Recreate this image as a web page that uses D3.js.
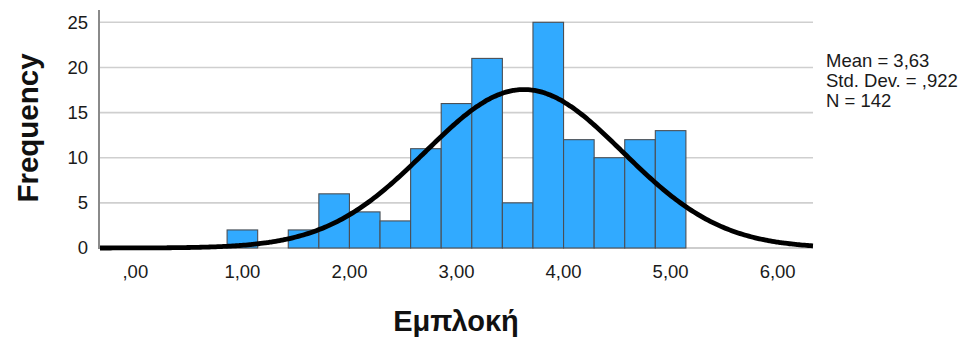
<!DOCTYPE html>
<html>
<head>
<meta charset="utf-8">
<script src="https://cdn.jsdelivr.net/npm/d3@7"></script>
<style>
  html, body { margin: 0; padding: 0; background: #fff; }
  svg { display: block; font-family: "Liberation Sans", Arial, sans-serif; }
</style>
</head>
<body>
<svg id="chart" width="971" height="342"></svg>
<script>
// Histogram of Εμπλοκή with fitted normal curve
const binCenters = [1.0000, 1.2857, 1.5714, 1.8571, 2.1429, 2.4286, 2.7143, 3.0000,
                    3.2857, 3.5714, 3.8571, 4.1429, 4.4286, 4.7143, 5.0000];
const counts     = [2, 0, 2, 6, 4, 3, 11, 16, 21, 5, 25, 12, 10, 12, 13];
const binWidth = 0.2857;
const xTicks = [0, 1, 2, 3, 4, 5, 6];
const xTickLabels = [",00", "1,00", "2,00", "3,00", "4,00", "5,00", "6,00"];
const yTicks = [0, 5, 10, 15, 20, 25];
const statMean = 3.63, statSD = 0.922, statN = 142;
const statLabels = ["Mean = 3,63", "Std. Dev. = ,922", "N = 142"];
const xTitle = "Εμπλοκή";
const yTitle = "Frequency";

const svg = d3.select("#chart");
const plotL = 100, plotR = 813, plotB = 248, plotT = 22.3, axisTop = 10;

const x = d3.scaleLinear().domain([-0.33, 6.33]).range([plotL, plotR]);
const y = d3.scaleLinear().domain([0, 25]).range([plotB, plotT]);

// gridlines
svg.append("g").selectAll("line").data(yTicks.filter(d => d > 0)).join("line")
  .attr("x1", plotL).attr("x2", plotR)
  .attr("y1", d => y(d)).attr("y2", d => y(d))
  .attr("stroke", "#cfcfcf").attr("stroke-width", 1.6);

// x axis baseline
svg.append("line").attr("x1", plotL).attr("x2", plotR)
  .attr("y1", y(0)).attr("y2", y(0))
  .attr("stroke", "#bdbdbd").attr("stroke-width", 1.6);

// bars
const bins = binCenters.map((c, i) => ({ x0: c - binWidth / 2, x1: c + binWidth / 2, n: counts[i] }))
  .filter(d => d.n > 0);
svg.append("g").selectAll("rect").data(bins).join("rect")
  .attr("x", d => x(d.x0)).attr("width", d => x(d.x1) - x(d.x0))
  .attr("y", d => y(d.n)).attr("height", d => y(0) - y(d.n))
  .attr("fill", "#31aaff").attr("stroke", "#4b4f55").attr("stroke-width", 1.1);

// normal curve scaled to counts
const scaleK = statN * binWidth / (statSD * Math.sqrt(2 * Math.PI));
const curvePts = d3.range(-0.33, 6.3301, 0.02).map(v => [v, scaleK * Math.exp(-0.5 * ((v - statMean) / statSD) ** 2)]);
svg.append("path").datum(curvePts)
  .attr("d", d3.line().x(d => x(d[0])).y(d => y(d[1])).curve(d3.curveBasis))
  .attr("fill", "none").attr("stroke", "#000").attr("stroke-width", 4.8)
  .attr("stroke-linecap", "butt");

// y axis line
svg.append("line").attr("x1", plotL - 1).attr("x2", plotL - 1)
  .attr("y1", axisTop).attr("y2", y(0) + 1)
  .attr("stroke", "#8a8a8a").attr("stroke-width", 2);

// y tick labels
svg.append("g").selectAll("text").data(yTicks).join("text")
  .attr("x", 88).attr("y", d => y(d)).attr("dy", "0.35em")
  .attr("text-anchor", "end").attr("font-size", 18.5).attr("fill", "#1a1a1a")
  .text(d => d);

// x tick labels
svg.append("g").selectAll("text").data(xTicks).join("text")
  .attr("x", d => x(d)).attr("y", 272).attr("dy", "0.35em")
  .attr("text-anchor", "middle").attr("font-size", 18.5).attr("fill", "#1a1a1a")
  .text((d, i) => xTickLabels[i]);

// axis titles
svg.append("text").attr("x", 456).attr("y", 331)
  .attr("text-anchor", "middle").attr("font-size", 29).attr("font-weight", "bold")
  .attr("fill", "#111").text(xTitle);
svg.append("text").attr("transform", "translate(38,128) rotate(-90)")
  .attr("text-anchor", "middle").attr("font-size", 29.5).attr("font-weight", "bold")
  .attr("fill", "#111").text(yTitle);

// statistics legend
svg.append("g").selectAll("text").data(statLabels).join("text")
  .attr("x", 826).attr("y", (d, i) => 66.5 + i * 20)
  .attr("font-size", 18.5).attr("fill", "#1a1a1a")
  .text(d => d);
</script>
</body>
</html>
